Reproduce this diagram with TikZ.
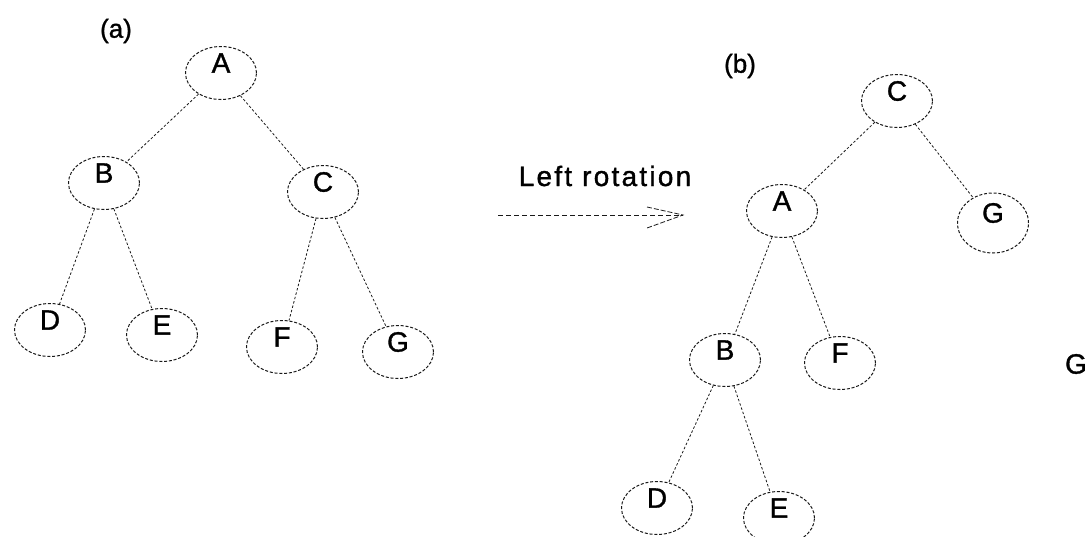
\documentclass[tikz,border=0pt]{standalone}
\usepackage{fontspec}
\setmainfont{Liberation Sans}
\newfontfamily\labfont[FakeBold=1.2]{Liberation Sans}
\usetikzlibrary{shapes.geometric,calc}
\tikzset{
  ell/.style={draw=black!90, ellipse, minimum width=71pt, minimum height=53pt, inner sep=0pt,
              line width=1pt, dash pattern=on 3pt off 1.8pt},
  lbl/.style={font=\labfont\fontsize{28}{30}\selectfont, yshift=10pt, inner sep=0pt},
  edge/.style={draw=black!90, line width=0.8pt, dash pattern=on 2.5pt off 2pt},
  txt/.style={font=\labfont\fontsize{28}{30}\selectfont, inner sep=0pt}
}
\begin{document}
\begin{tikzpicture}[x=1pt,y=-1pt]
\useasboundingbox (0,0) rectangle (1087,536);
% tree (a)
\node[txt, font=\labfont\fontsize{26}{28}\selectfont] (la) at (116,31) {(a)};
\node[ell, label={[lbl]center:A}] (aA) at (221,73) {};
\node[ell, label={[lbl]center:B}] (aB) at (104,183) {};
\node[ell, label={[lbl]center:C}] (aC) at (323,192) {};
\node[ell, label={[lbl]center:D}] (aD) at (50,330) {};
\node[ell, label={[lbl]center:E}] (aE) at (162,335) {};
\node[ell, label={[lbl]center:F}] (aF) at (282,347) {};
\node[ell, label={[lbl]center:G}] (aG) at (398,352) {};
\draw[edge] (aA) -- (aB);
\draw[edge] (aA) -- (aC);
\draw[edge] (aB) -- (aD);
\draw[edge] (aB) -- (aE);
\draw[edge] (aC) -- (aF);
\draw[edge] (aC) -- (aG);
% arrow
\node[txt] (rot) at (605,176) {\addfontfeature{LetterSpace=8}Left rotation};
\coordinate (arS) at (498,215);
\coordinate (arE) at (683,215);
\draw[edge, dash pattern=on 5pt off 3pt] (arS) -- (arE);
\draw[edge, dash pattern=on 5pt off 2pt] ($(arE)+(-36,-8)$) -- (arE) -- ($(arE)+(-36,13)$);
% tree (b)
\node[txt, font=\labfont\fontsize{26}{28}\selectfont] (lb) at (740,66) {(b)};
\node[ell, label={[lbl]center:C}] (bC) at (897,101) {};
\node[ell, label={[lbl]center:A}] (bA) at (782,211) {};
\node[ell, minimum height=60pt, label={[lbl]center:G}] (bG) at (993,223) {};
\node[ell, label={[lbl]center:B}] (bB) at (725,360) {};
\node[ell, label={[lbl]center:F}] (bF) at (840,363) {};
\node[ell, label={[lbl]center:D}] (bD) at (657,508) {};
\node[ell, label={[lbl]center:E}] (bE) at (779,518) {};
\draw[edge] (bC) -- (bA);
\draw[edge] (bC) -- (bG);
\draw[edge] (bA) -- (bB);
\draw[edge] (bA) -- (bF);
\draw[edge] (bB) -- (bD);
\draw[edge] (bB) -- (bE);
\node[txt] (xG) at (1076,364) {G};
\end{tikzpicture}
\end{document}
